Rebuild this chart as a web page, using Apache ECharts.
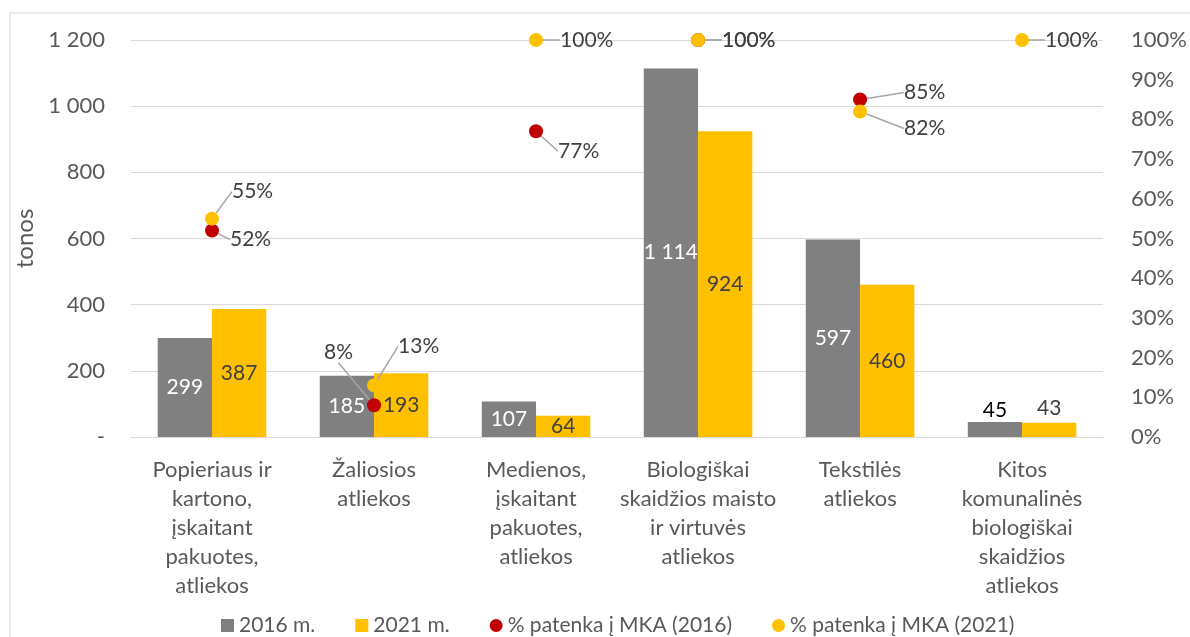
<!DOCTYPE html>
<html>
<head>
<meta charset="utf-8">
<script src="https://cdn.jsdelivr.net/npm/echarts@6/dist/echarts.min.js"></script>
<style>
  html, body { margin: 0; padding: 0; background: #fff; }
  #chart { width: 1190px; height: 637px; }
</style>
</head>
<body>
<div id="chart"></div>
<script>
// categories (x axis tick labels, wrapped like the original)
const categories = [
  'Popieriaus ir\nkartono,\nįskaitant\npakuotes,\natliekos',
  'Žaliosios\natliekos',
  'Medienos,\nįskaitant\npakuotes,\natliekos',
  'Biologiškai\nskaidžios maisto\nir virtuvės\natliekos',
  'Tekstilės\natliekos',
  'Kitos\nkomunalinės\nbiologiškai\nskaidžios\natliekos'
]
const tons2016 = [299, 185, 107, 1114, 597, 45]
const tons2021 = [387, 193, 64, 924, 460, 43]
const share2016 = [0.52, 0.08, 0.77, 1.00, 0.85, null]
const share2021 = [0.55, 0.13, 1.00, 1.00, 0.82, 1.00]
const seriesNames = ['2016 m.', '2021 m.', '% patenka į MKA (2016)', '% patenka į MKA (2021)']

const FONT = 'Lato, "Open Sans", sans-serif'
const TEXT = '#595959'
const DARK = '#404040'

// label nudges for the percentage dots
const shift2016 = [[6, 9], [-62, -53], [10, 20], [12, 0], [32, -7], [0, 0]]
const shift2021 = [[8, -27], [12, -39], [12, 0], [12, 0], [32, 17], [11, 0]]

function fmtTons(v) {
  if (v === 0) return '-'
  return String(v).replace(/\B(?=(\d{3})+(?!\d))/g, ' ')
}

function pctLabel() {
  return {
    show: true,
    position: 'right',
    distance: 5,
    fontSize: 21,
    color: DARK,
    fontFamily: FONT,
    formatter: p => Math.round(p.value * 100) + '%'
  }
}

const chart = echarts.init(document.getElementById('chart'))
chart.setOption({
  backgroundColor: '#fff',
  textStyle: { fontFamily: FONT },
  graphic: [{
    type: 'rect',
    shape: { x: 10, y: 13, width: 1300, height: 800 },
    style: { fill: 'none', stroke: '#d9d9d9', lineWidth: 1 },
    silent: true
  }],
  legend: {
    top: 610,
    left: 216,
    itemGap: 40,
    itemWidth: 13,
    itemHeight: 13,
    textStyle: { fontSize: 21, color: TEXT, fontFamily: FONT },
    data: [
      { name: seriesNames[0], icon: 'rect' },
      { name: seriesNames[1], icon: 'rect' },
      { name: seriesNames[2], icon: 'circle' },
      { name: seriesNames[3], icon: 'circle' }
    ]
  },
  grid: {
    left: 131,
    right: 80,
    top: 40,
    bottom: 200,
    containLabel: false
  },
  xAxis: [{
    type: 'category',
    data: categories,
    axisTick: { show: false },
    axisLine: { lineStyle: { color: '#d9d9d9' } },
    axisLabel: {
      interval: 0,
      margin: 18,
      fontSize: 22,
      lineHeight: 29,
      color: TEXT,
      fontFamily: FONT
    }
  }],
  yAxis: [{
    type: 'value',
    min: 0,
    max: 1200,
    interval: 200,
    name: 'tonos',
    nameLocation: 'middle',
    nameGap: 84,
    nameTextStyle: { fontSize: 24, color: TEXT, fontFamily: FONT },
    axisLine: { show: false },
    axisTick: { show: false },
    splitLine: { lineStyle: { color: '#d9d9d9' } },
    axisLabel: {
      margin: 26,
      fontSize: 22,
      color: TEXT,
      fontFamily: FONT,
      formatter: fmtTons
    }
  }, {
    type: 'value',
    min: 0,
    max: 1,
    interval: 0.1,
    axisLine: { show: false },
    axisTick: { show: false },
    splitLine: { show: false },
    axisLabel: {
      margin: 28,
      fontSize: 22,
      color: TEXT,
      fontFamily: FONT,
      formatter: v => Math.round(v * 100) + '%'
    }
  }],
  series: [{
    name: seriesNames[0],
    type: 'bar',
    barGap: '0%',
    barCategoryGap: '33%',
    itemStyle: { color: '#808080' },
    label: {
      show: true,
      position: 'inside',
      fontSize: 21,
      color: '#fff',
      fontFamily: FONT,
      formatter: p => fmtTons(p.value)
    },
    data: tons2016.map(v => v < 60
      ? { value: v, label: { color: '#000', position: 'top', distance: 1 } }
      : v)
  }, {
    name: seriesNames[1],
    type: 'bar',
    itemStyle: { color: '#FFC000' },
    label: {
      show: true,
      position: 'inside',
      fontSize: 21,
      color: DARK,
      fontFamily: FONT,
      formatter: p => fmtTons(p.value)
    },
    data: tons2021.map(v => v < 60
      ? { value: v, label: { position: 'top', distance: 4 } }
      : v)
  }, {
    name: seriesNames[2],
    type: 'scatter',
    yAxisIndex: 1,
    symbolSize: 14,
    itemStyle: { color: '#C00000', opacity: 1 },
    label: pctLabel(),
    labelLine: { show: true, lineStyle: { color: '#a6a6a6', width: 1.5 } },
    labelLayout: p => ({ dx: shift2016[p.dataIndex][0], dy: shift2016[p.dataIndex][1] }),
    data: share2016
  }, {
    name: seriesNames[3],
    type: 'scatter',
    yAxisIndex: 1,
    symbolSize: 14,
    itemStyle: { color: '#FFC000', opacity: 1 },
    label: pctLabel(),
    labelLine: { show: true, lineStyle: { color: '#a6a6a6', width: 1.5 } },
    labelLayout: p => ({ dx: shift2021[p.dataIndex][0], dy: shift2021[p.dataIndex][1] }),
    data: share2021
  }]
})
</script>
</body>
</html>
